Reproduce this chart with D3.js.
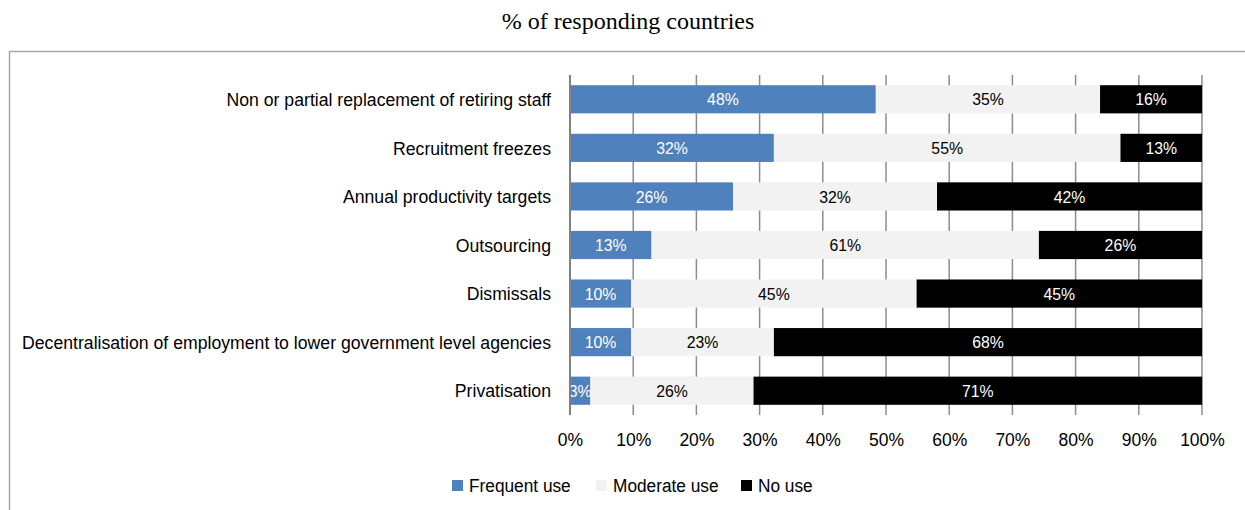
<!DOCTYPE html>
<html>
<head>
<meta charset="utf-8">
<script src="https://cdn.jsdelivr.net/npm/d3@7"></script>
<style>
  html, body { margin: 0; padding: 0; background: #fff; }
  svg { display: block; }
  text { font-family: "Liberation Sans", Arial, sans-serif; }
</style>
</head>
<body>
<svg id="chart" width="1245" height="510"></svg>
<script>
// Measures used to contain public employment (share of responding countries)
const categories = [
  "Non or partial replacement of retiring staff",
  "Recruitment freezes",
  "Annual productivity targets",
  "Outsourcing",
  "Dismissals",
  "Decentralisation of employment to lower government level agencies",
  "Privatisation"
];
const seriesNames = ["Frequent use", "Moderate use", "No use"];
const frequentUse = [48.39, 32.26, 25.81, 12.90, 9.68, 9.68, 3.23];
const moderateUse = [35.48, 54.84, 32.26, 61.29, 45.16, 22.58, 25.81];
const noUse       = [16.13, 12.90, 41.94, 25.81, 45.16, 67.74, 70.97];
const tickValues = [0, 10, 20, 30, 40, 50, 60, 70, 80, 90, 100];
const titleText = "% of responding countries";

const fills = ["#4f81bd", "#f2f2f2", "#000000"];
const labelColors = ["#ffffff", "#000000", "#ffffff"];

const svg = d3.select("#chart");
const W = 1245, H = 510;

// Title
svg.append("text")
  .attr("x", 628).attr("y", 29)
  .attr("text-anchor", "middle")
  .style("font-family", "'Liberation Serif', 'Times New Roman', serif")
  .style("font-size", "24px")
  .attr("fill", "#000")
  .text(titleText);

// Frame around the chart area (top and left edges)
svg.append("path")
  .attr("d", `M9.5,${H} V51.5 H${W}`)
  .attr("fill", "none")
  .attr("stroke", "#a6a6a6")
  .attr("stroke-width", 1.5);

const x = d3.scaleLinear().domain([0, 100]).range([570, 1202]);
const y = d3.scaleBand().domain(categories).range([75, 415]).paddingInner(0.42).paddingOuter(0.21);

// Vertical gridlines
svg.append("g")
  .selectAll("line")
  .data(tickValues.slice(1))
  .join("line")
  .attr("x1", d => x(d)).attr("x2", d => x(d))
  .attr("y1", 75).attr("y2", 415)
  .attr("stroke", "#8c8c8c")
  .attr("stroke-width", 1.5);

// Stacked data
const rows = categories.map((c, i) => ({
  category: c,
  "Frequent use": frequentUse[i],
  "Moderate use": moderateUse[i],
  "No use": noUse[i]
}));
const stacked = d3.stack().keys(seriesNames)(rows);

const fmt = d3.format(".0f");

const layers = svg.append("g")
  .selectAll("g")
  .data(stacked)
  .join("g")
  .attr("fill", (d, i) => fills[i]);

layers.selectAll("rect")
  .data(d => d)
  .join("rect")
  .attr("x", d => x(d[0]))
  .attr("width", d => x(d[1]) - x(d[0]))
  .attr("y", d => y(d.data.category))
  .attr("height", y.bandwidth());

// Value labels in each segment
stacked.forEach((layer, i) => {
  svg.append("g")
    .selectAll("text")
    .data(layer)
    .join("text")
    .attr("transform", d => `translate(${(x(d[0]) + x(d[1])) / 2},${y(d.data.category) + y.bandwidth() / 2}) scale(0.93,1)`)
    .attr("dy", "0.36em")
    .attr("text-anchor", "middle")
    .attr("fill", labelColors[i])
    .style("font-size", "17px")
    .text(d => fmt(d[1] - d[0]) + "%");
});

// Baseline axis line at 0%
svg.append("line")
  .attr("x1", x(0)).attr("x2", x(0))
  .attr("y1", 75).attr("y2", 415)
  .attr("stroke", "#808080")
  .attr("stroke-width", 2);

// Category labels (slightly condensed face)
svg.append("g")
  .selectAll("text")
  .data(categories)
  .join("text")
  .attr("transform", d => `translate(551,${y(d) + y.bandwidth() / 2}) scale(0.955,1)`)
  .attr("dy", "0.36em")
  .attr("text-anchor", "end")
  .attr("fill", "#000")
  .style("font-size", "18.5px")
  .text(d => d);

// X axis tick labels
const xAxis = d3.axisBottom(x)
  .tickValues(tickValues)
  .tickFormat(d => d + "%")
  .tickSize(0)
  .tickPadding(0);
const gx = svg.append("g")
  .attr("transform", "translate(0,434)")
  .call(xAxis);
gx.select(".domain").remove();
gx.selectAll("text")
  .style("font-family", "'Liberation Sans', Arial, sans-serif")
  .style("font-size", "17.5px")
  .attr("fill", "#000");

// Legend
const legendX = [452, 596, 741];
const legend = svg.append("g")
  .selectAll("g")
  .data(seriesNames)
  .join("g")
  .attr("transform", (d, i) => `translate(${legendX[i]},480)`);
legend.append("rect")
  .attr("width", 11).attr("height", 11)
  .attr("fill", (d, i) => fills[i]);
legend.append("text")
  .attr("transform", "translate(17,5.5) scale(0.96,1)")
  .attr("dy", "0.36em")
  .style("font-size", "18px")
  .attr("fill", "#000")
  .text(d => d);
</script>
</body>
</html>
